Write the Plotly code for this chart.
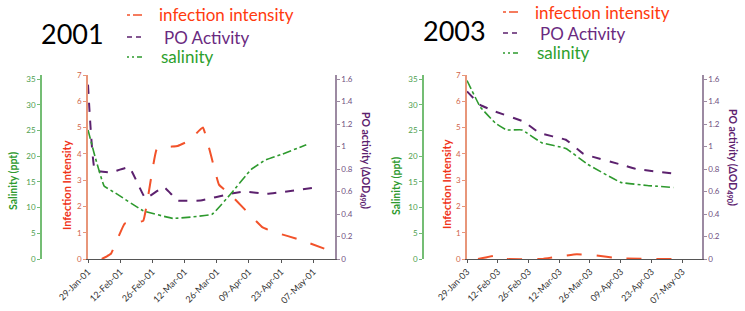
import plotly.graph_objects as go

# --- data ---
# 2001
inf_dates_01 = ['2001-02-04', '2001-02-08', '2001-02-14', '2001-02-22', '2001-02-28', '2001-03-09',
                '2001-03-14', '2001-03-20', '2001-03-27', '2001-04-01', '2001-04-15', '2001-04-21',
                '2001-05-01', '2001-05-16']
inf_01 = [0, 0.2, 1.35, 1.45, 4.2, 4.3, 4.5, 5.0, 2.83, 2.45, 1.2, 1.0, 0.74, 0.26]

po_dates_01 = ['2001-01-29', '2001-02-01', '2001-02-08', '2001-02-16', '2001-02-23', '2001-03-03',
               '2001-03-09', '2001-03-19', '2001-04-01', '2001-04-07', '2001-04-17', '2001-05-10']
po_01 = [1.55, 0.79, 0.77, 0.815, 0.54, 0.64, 0.52, 0.52, 0.58, 0.60, 0.58, 0.64]

sal_dates_01 = ['2001-01-29', '2001-02-01', '2001-02-05', '2001-02-10', '2001-02-22', '2001-03-07',
                '2001-03-24', '2001-04-01', '2001-04-10', '2001-04-16', '2001-04-23', '2001-05-04']
sal_01 = [25.1, 20, 14.2, 12.8, 9.4, 7.9, 8.7, 12.6, 17.4, 19.2, 20.3, 22.2]

# 2003
inf_dates_03 = ['2003-02-03', '2003-02-11', '2003-02-16', '2003-03-04', '2003-03-12', '2003-03-20',
                '2003-03-27', '2003-04-09', '2003-05-03']
inf_03 = [0, 0.13, 0, 0, 0.1, 0.18, 0.15, 0.02, 0]

po_dates_03 = ['2003-01-29', '2003-02-04', '2003-02-11', '2003-02-24', '2003-03-03', '2003-03-15',
               '2003-03-23', '2003-03-27', '2003-04-09', '2003-04-16', '2003-05-03']
po_03 = [1.49, 1.37, 1.31, 1.22, 1.12, 1.06, 0.935, 0.91, 0.84, 0.80, 0.76]

sal_dates_03 = ['2003-01-29', '2003-02-04', '2003-02-11', '2003-02-16', '2003-02-23', '2003-03-04',
                '2003-03-15', '2003-03-25', '2003-04-09', '2003-04-21', '2003-05-03']
sal_03 = [34.7, 29.6, 26.4, 25.1, 25.1, 22.6, 21.5, 18.4, 14.9, 14.3, 13.9]

legend_labels = ['infection intensity', 'PO Activity', 'salinity']

W, H = 745, 311
RED = '#F2522A'
PURPLE = '#5C216E'
GREEN = '#2E9A2E'
FONT = 'Lato'
DAY = 86400000


def px(x):
    return x / W


def py(y):
    return 1 - y / H


Y_DOM = [py(259), py(75)]

fig = go.Figure()


def add_panel(n, year, inf_d, inf, po_d, po, sal_d, sal, x0, x1, x_sal, x_end):
    xa = 'x' if n == 1 else 'x2'
    ya = ['y', 'y2', 'y3'] if n == 1 else ['y4', 'y5', 'y6']
    line_kw = dict(shape='spline', smoothing=0.25)
    fig.add_trace(go.Scatter(x=inf_d, y=inf, mode='lines', xaxis=xa, yaxis=ya[0], showlegend=False,
                             line=dict(color=RED, width=2, dash='longdash', **line_kw)))
    fig.add_trace(go.Scatter(x=po_d, y=po, mode='lines', xaxis=xa, yaxis=ya[1], showlegend=False,
                             line=dict(color=PURPLE, width=2, dash='dash', **line_kw)))
    fig.add_trace(go.Scatter(x=sal_d, y=sal, mode='lines', xaxis=xa, yaxis=ya[2], showlegend=False,
                             line=dict(color=GREEN, width=1.6, dash='dashdot', **line_kw)))

    xkey = 'xaxis' if n == 1 else 'xaxis2'
    k = ['yaxis', 'yaxis2', 'yaxis3'] if n == 1 else ['yaxis4', 'yaxis5', 'yaxis6']
    common = dict(showgrid=False, zeroline=False, showline=True, ticks='outside', ticklen=3,
                  automargin=False)
    fig.update_layout({
        xkey: dict(domain=[px(x0), px(x1)], anchor=ya[0], type='date',
                   range=[f'{year}-01-29', x_end], tick0=f'{year}-01-29', dtick=14 * DAY,
                   tickformat='%d-%b-%y', tickangle=-45, linecolor='#555555', linewidth=1.2,
                   tickcolor='#555555', tickfont=dict(family=FONT, size=9, color='#333333'), **common),
        k[0]: dict(domain=Y_DOM, anchor=xa, range=[0, 7], dtick=1, linecolor='#E8967A', linewidth=1.5,
                   tickcolor='#E8967A', tickfont=dict(family=FONT, size=8, color='#D0664C'), **common),
        k[1]: dict(overlaying=ya[0], anchor=xa, side='right', range=[0, 1.6 * 184 / 180], dtick=0.2,
                   linecolor='#9C8AA2', linewidth=1.5, tickcolor='#9C8AA2',
                   tickfont=dict(family=FONT, size=8, color='#6E4F80'), **common),
        k[2]: dict(overlaying=ya[0], anchor='free', position=px(x_sal), side='left',
                   range=[0, 35 * 184 / 180], dtick=5, linecolor='#74BD74', linewidth=1.5,
                   tickcolor='#74BD74', tickfont=dict(family=FONT, size=8, color='#4E9E4E'), **common),
    })


add_panel(1, 2001, inf_dates_01, inf_01, po_dates_01, po_01, sal_dates_01, sal_01,
          88, 335, 41, '2001-05-16 12:00')
add_panel(2, 2003, inf_dates_03, inf_03, po_dates_03, po_03, sal_dates_03, sal_03,
          467, 702, 423, '2003-05-16')

annotations = []
shapes = []


def label(x, y, text, size, color, angle=0, bold=False):
    if bold:
        text = f'<b>{text}</b>'
    annotations.append(dict(x=px(x), y=py(y), xref='paper', yref='paper', text=text, showarrow=False,
                            textangle=angle, xanchor='center', yanchor='middle',
                            font=dict(family=FONT, size=size, color=color)))


def legend_block(x_year, y_year, year, xs, ys):
    label(x_year, y_year, str(year), 27, '#000000')
    colors = [RED, PURPLE, GREEN]
    dashes = ['3px,3px,9px', '5px,4px', '2px,3px,2px,3px,5px']
    text_colors = ['#FF3A0E', '#6A2A80', '#2DA02D']
    offsets = [31, 36, 33]
    for i in range(3):
        shapes.append(dict(type='line', xref='paper', yref='paper', x0=px(xs), x1=px(xs + 15),
                           y0=py(ys[i]), y1=py(ys[i]),
                           line=dict(color=colors[i], width=1.6, dash=dashes[i])))
        annotations.append(dict(x=px(xs + offsets[i]), y=py(ys[i]),
                                xref='paper', yref='paper', text=legend_labels[i], showarrow=False,
                                xanchor='left', yanchor='middle', borderpad=0,
                                font=dict(family=FONT, size=17, color=text_colors[i])))


legend_block(72, 33, 2001, 127, [15, 37, 57])
legend_block(454, 30, 2003, 503, [12, 33, 53])

# axis titles
label(13, 181, 'Salinity (ppt)', 10.5, GREEN, -90, True)
label(66, 185, 'Infection Intensity', 11, '#F0341A', -90, True)
label(365, 160, 'PO activity (ΔOD<sub>490</sub>)', 10.5, PURPLE, 90, True)
label(396, 186, 'Salinity (ppt)', 10.5, GREEN, -90, True)
label(446, 184, 'Infection Intensity', 11, '#F0341A', -90, True)
label(732, 157, 'PO activity (ΔOD<sub>490</sub>)', 10.5, PURPLE, 90, True)

fig.update_layout(width=W, height=H, margin=dict(l=0, r=0, t=0, b=0),
                  plot_bgcolor='white', paper_bgcolor='white',
                  annotations=annotations, shapes=shapes)

# the page body has a default 8px margin; drop it so the figure sits at the window's corner
fig.write_html("out.html", config={'displayModeBar': False},
               post_script="document.body.style.margin = '0px';")
